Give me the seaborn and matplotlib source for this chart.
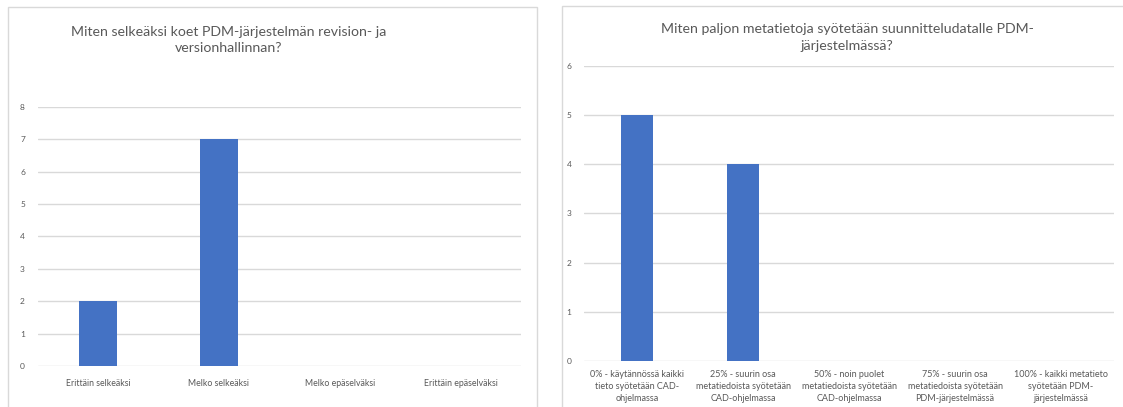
import matplotlib
matplotlib.use("Agg")
import matplotlib.pyplot as plt
import seaborn as sns
import pandas as pd
from matplotlib.patches import Rectangle

# data
left_title = "Miten selkeäksi koet PDM-järjestelmän revision- ja\nversionhallinnan?"
left_cats = ["Erittäin selkeäksi", "Melko selkeäksi", "Melko epäselväksi", "Erittäin epäselväksi"]
left_vals = [2, 7, 0, 0]

right_title = "Miten paljon metatietoja syötetään suunnitteludatalle PDM-\njärjestelmässä?"
right_cats = [
    "0% - käytännössä kaikki\ntieto syötetään CAD-\nohjelmassa",
    "25% - suurin osa\nmetatiedoista syötetään\nCAD-ohjelmassa",
    "50% - noin puolet\nmetatiedoista syötetään\nCAD-ohjelmassa",
    "75% - suurin osa\nmetatiedoista syötetään\nPDM-järjestelmässä",
    "100% - kaikki metatieto\nsyötetään PDM-\njärjestelmässä",
]
right_vals = [5, 4, 0, 0, 0]

BAR = "#4472C4"
TXT = "#595959"
GRID = "#d9d9d9"

sns.set_style("white")
plt.rcParams['font.family'] = ['Lato', 'DejaVu Sans']

W, H = 1123, 407
fig = plt.figure(figsize=(W / 100, H / 100), dpi=100)

def px_axes(x0, x1, y_top, y_bot):
    return fig.add_axes([x0 / W, (H - y_bot) / H, (x1 - x0) / W, (y_bot - y_top) / H])

# panel frames
fig.patches.append(Rectangle((8 / W, -0.1), (537 - 8) / W, (H - 7) / H + 0.1,
                             transform=fig.transFigure, fill=False, edgecolor=GRID, linewidth=1))
fig.patches.append(Rectangle((562 / W, -0.1), 0.6, (H - 6) / H + 0.1,
                             transform=fig.transFigure, fill=False, edgecolor=GRID, linewidth=1))


def style(ax, ymax):
    ax.set_ylim(0, ymax)
    ax.set_yticks(range(0, ymax + 1))
    ax.yaxis.grid(True, color=GRID, linewidth=1)
    ax.set_axisbelow(True)
    sns.despine(ax=ax, left=True, bottom=True)
    ax.tick_params(axis='both', length=0, labelsize=6, labelcolor=TXT)
    ax.tick_params(axis='y', pad=9)
    ax.set_xlabel("")
    ax.set_ylabel("")


ax1 = px_axes(37.5, 521, 106.7, 366)
df1 = pd.DataFrame({"cat": left_cats, "val": left_vals})
sns.barplot(data=df1, x="cat", y="val", order=left_cats, color=BAR, width=0.31,
            linewidth=0, saturation=1, ax=ax1)
style(ax1, 8)
ax1.tick_params(axis='x', pad=9, labelsize=6.3)
fig.text(229 / W, 1 - 39.5 / H, left_title, ha='center', va='center', fontsize=10.2,
         color=TXT, linespacing=1.4)

ax2 = px_axes(584, 1114, 65.7, 361)
df2 = pd.DataFrame({"cat": right_cats, "val": right_vals})
sns.barplot(data=df2, x="cat", y="val", order=right_cats, color=BAR, width=0.30,
            linewidth=0, saturation=1, ax=ax2)
style(ax2, 6)
ax2.tick_params(axis='x', pad=6.5, labelsize=6.5)
for t in ax2.get_xticklabels():
    t.set_linespacing(1.45)
fig.text(847 / W, 1 - 37.5 / H, right_title, ha='center', va='center', fontsize=10.2,
         color=TXT, linespacing=1.45)

fig.savefig("out.png", dpi=100, facecolor="white")
